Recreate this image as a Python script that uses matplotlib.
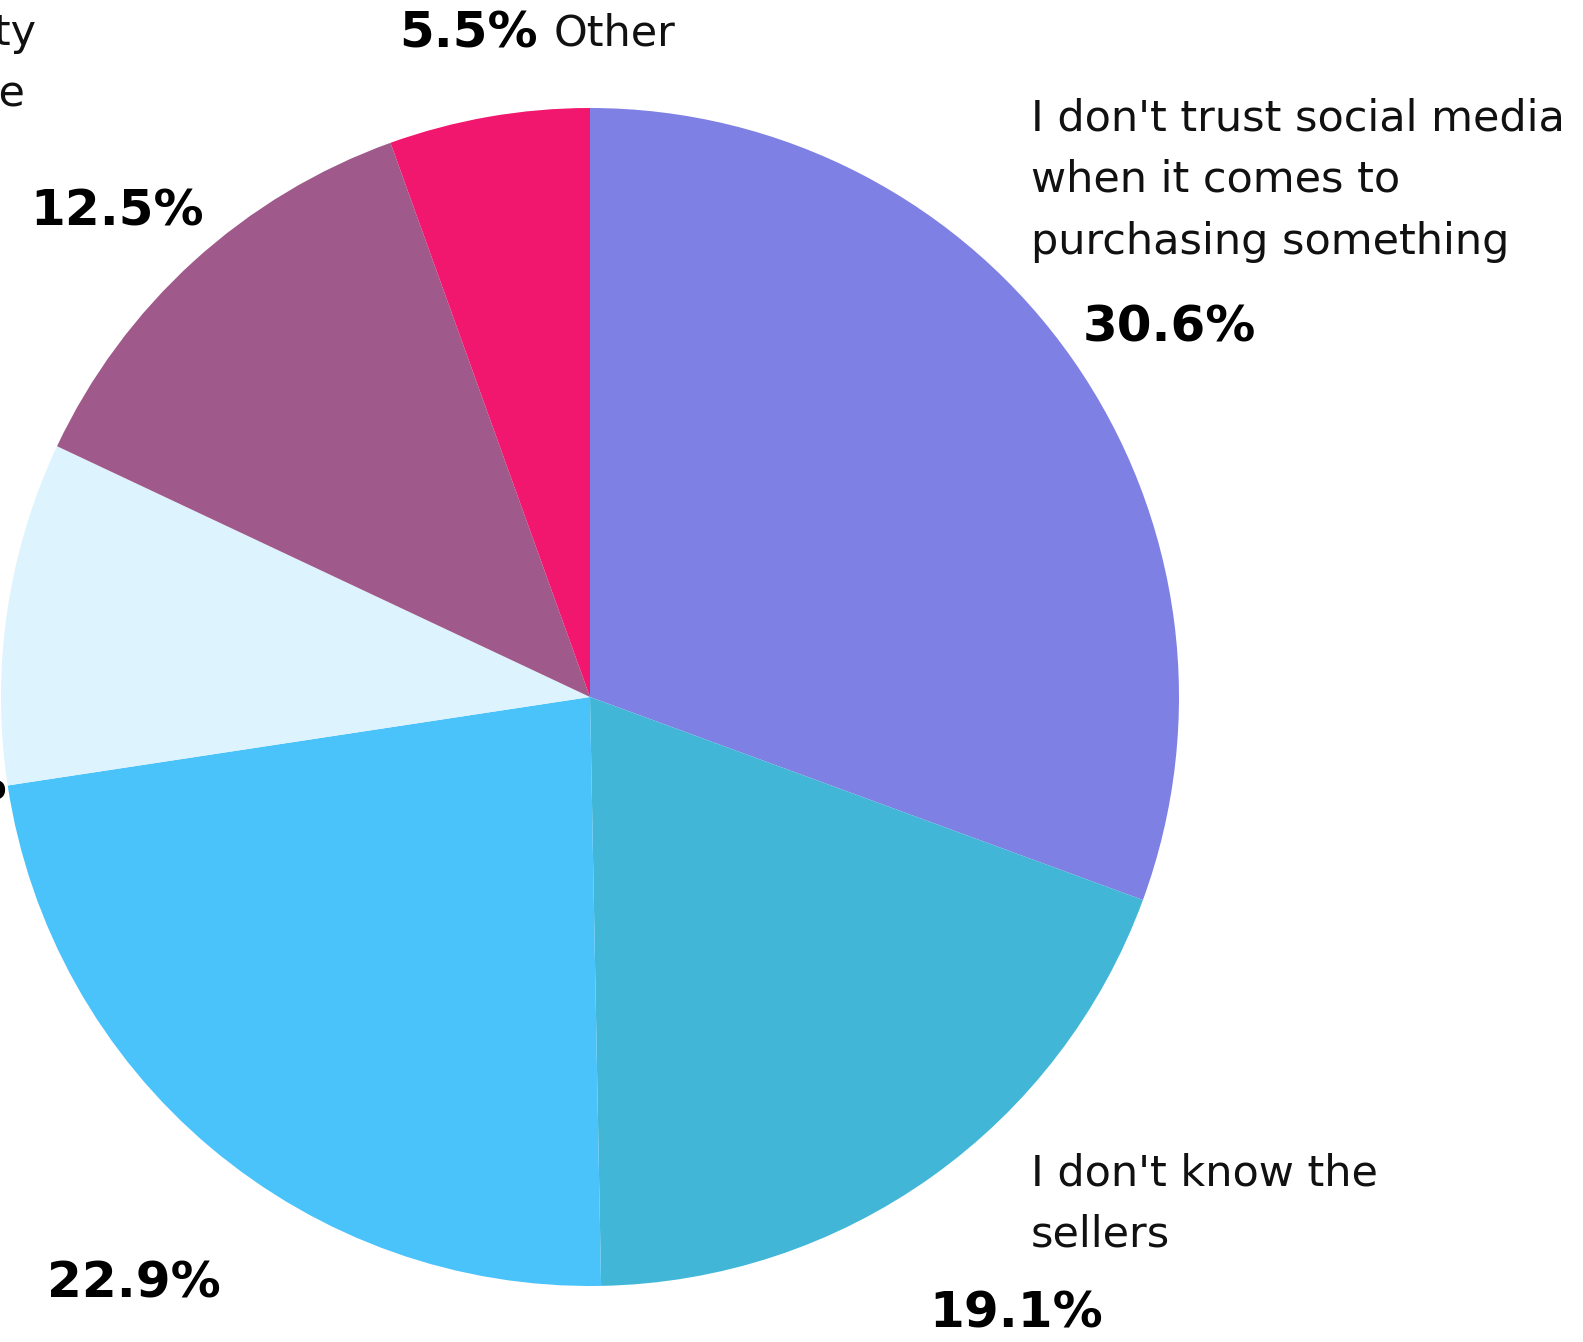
import matplotlib.pyplot as plt

# slices, clockwise from 12 o'clock
shares = [30.6, 19.1, 22.9, 9.4, 12.5, 5.5]
pct_labels = ["30.6%", "19.1%", "22.9%", "9.4%", "12.5%", "5.5%"]
colors = ["#7F80E4", "#42B6D6", "#4AC3FB", "#DDF3FD", "#9F5A8B", "#F2176E"]

FONT = "DejaVu Sans"

fig = plt.figure(figsize=(15.83, 13.42), dpi=100)
ax = fig.add_axes([0, 0, 1, 1])

# y axis is inverted below, so start at -90 and go "counterclock" -> top, clockwise on screen
ax.pie(shares, colors=colors, startangle=-90, counterclock=True,
       center=(590, 697), radius=589, frame=True,
       wedgeprops=dict(linewidth=0))
ax.set_xlim(0, 1583)
ax.set_ylim(1342, 0)   # pixel coords, y down
ax.set_aspect("equal")
ax.axis("off")

# ---------------------
# labels
# ---------------------
txt = dict(fontsize=31, family=FONT, color="#111111", va="center", ha="left")
pct = dict(fontsize=36, family=FONT, weight="bold", color="black", va="center", ha="left")

ax.text(1031, 180, "I don't trust social media\nwhen it comes to\npurchasing something",
        linespacing=1.6, **txt)
ax.text(1083, 328, pct_labels[0], **pct)

ax.text(1031, 1204, "I don't know the\nsellers", linespacing=1.6, **txt)
ax.text(929, 1314, pct_labels[1], **pct)

ax.text(47, 1284, pct_labels[2], **pct)

ax.text(7, 786, pct_labels[3], **dict(pct, ha="right"))

ax.text(30, 212, pct_labels[4], **pct)
ax.text(36, 33, "Concerned about product quality", **dict(txt, ha="right"))
ax.text(25, 94, "and after-sale service", **dict(txt, ha="right"))

ax.text(399, 33, pct_labels[5], **pct)
ax.text(554, 33, "Other", **txt)

plt.savefig("out.png", dpi=100)
